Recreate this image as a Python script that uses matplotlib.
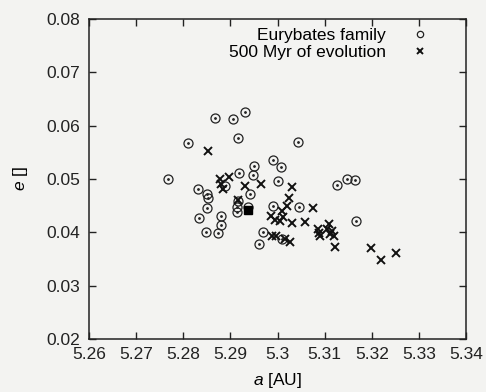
import matplotlib
matplotlib.use("Agg")
import matplotlib.pyplot as plt

plt.rcParams["font.family"] = ["Liberation Sans", "DejaVu Sans"]
plt.rcParams["mathtext.fontset"] = "custom"
plt.rcParams["mathtext.it"] = "Liberation Sans:italic"
plt.rcParams["mathtext.rm"] = "Liberation Sans"

# Eurybates family members (a [AU], e)
fam_a = [5.2868, 5.2905, 5.2932, 5.2811, 5.2917, 5.3043, 5.2768, 5.2951, 5.2991,
         5.3007, 5.2919, 5.2947, 5.3002, 5.2832, 5.2889, 5.2850, 5.2853, 5.2942,
         5.2851, 5.2916, 5.2914, 5.2914, 5.2938, 5.2991, 5.3045, 5.2834, 5.2880,
         5.2881, 5.2849, 5.2874, 5.2969, 5.3127, 5.3148, 5.3165, 5.3167, 5.3009,
         5.2960]
fam_e = [0.0614, 0.0613, 0.0625, 0.0568, 0.0576, 0.0570, 0.0500, 0.0525, 0.0535,
         0.0523, 0.0512, 0.0507, 0.0497, 0.0482, 0.0487, 0.0471, 0.0464, 0.0472,
         0.0446, 0.0459, 0.0448, 0.0439, 0.0448, 0.0450, 0.0448, 0.0427, 0.0430,
         0.0413, 0.0401, 0.0399, 0.0401, 0.0489, 0.0500, 0.0498, 0.0421, 0.0388,
         0.0379]

# after 500 Myr of evolution
evo_a = [5.2853, 5.2877, 5.2897, 5.2880, 5.2885, 5.2932, 5.2966, 5.3031, 5.3025,
         5.3020, 5.3075, 5.2986, 5.3010, 5.3012, 5.3005, 5.3031, 5.3059, 5.3085,
         5.3089, 5.3110, 5.3105, 5.3115, 5.3120, 5.3112, 5.3090, 5.3122, 5.2988,
         5.2997, 5.3016, 5.3027, 5.3198, 5.3220, 5.3252, 5.2917, 5.2995]
evo_e = [0.0553, 0.0500, 0.0504, 0.0490, 0.0482, 0.0487, 0.0491, 0.0485, 0.0464,
         0.0449, 0.0446, 0.0430, 0.0440, 0.0428, 0.0421, 0.0418, 0.0419, 0.0407,
         0.0399, 0.0415, 0.0406, 0.0402, 0.0394, 0.0396, 0.0394, 0.0373, 0.0394,
         0.0393, 0.0388, 0.0382, 0.0370, 0.0348, 0.0361, 0.0461, 0.0424]

# (3548) Eurybates itself
eury_a = [5.2938]
eury_e = [0.0442]

fig = plt.figure(figsize=(4.86, 3.92), dpi=100)
fig.patch.set_facecolor("#f3f3f1")
ax = fig.add_axes([0.183, 0.135, 0.776, 0.817])
ax.set_facecolor("#f3f3f1")

ax.plot(fam_a, fam_e, "o", ms=6.5, mfc="none", mec="#222222", mew=0.9,
        label="Eurybates family")
ax.plot(fam_a, fam_e, ".", ms=2, color="#222222")
ax.plot(evo_a, evo_e, "x", ms=5.5, color="#111111", mew=1.4,
        label="500 Myr of evolution")
ax.plot(eury_a, eury_e, "s", ms=6, color="black")

ax.set_xlim(5.26, 5.34)
ax.set_ylim(0.02, 0.08)
ax.set_xticks([5.26, 5.27, 5.28, 5.29, 5.30, 5.31, 5.32, 5.33, 5.34])
ax.set_xticklabels(["5.26", "5.27", "5.28", "5.29", "5.3", "5.31", "5.32", "5.33", "5.34"])
ax.set_yticks([0.02, 0.03, 0.04, 0.05, 0.06, 0.07, 0.08])
ax.set_yticklabels(["0.02", "0.03", "0.04", "0.05", "0.06", "0.07", "0.08"])
ax.tick_params(direction="in", top=True, right=True, length=5, width=1,
               labelsize=12.5, pad=6, colors="#222222")
for s in ax.spines.values():
    s.set_linewidth(1.1)
    s.set_color("#222222")

ax.set_xlabel("$a$ [AU]", fontsize=12.5, labelpad=6)
ax.set_ylabel("$e$ []", fontsize=12.5, labelpad=12)

ax.legend(loc="upper right", frameon=False, markerfirst=False, fontsize=12.5,
          handletextpad=1.5, borderaxespad=0.1, labelspacing=0.15,
          handlelength=1.0, markerscale=0.7, bbox_to_anchor=(0.925, 1.0))

fig.savefig("out.png", dpi=100, facecolor=fig.get_facecolor())
